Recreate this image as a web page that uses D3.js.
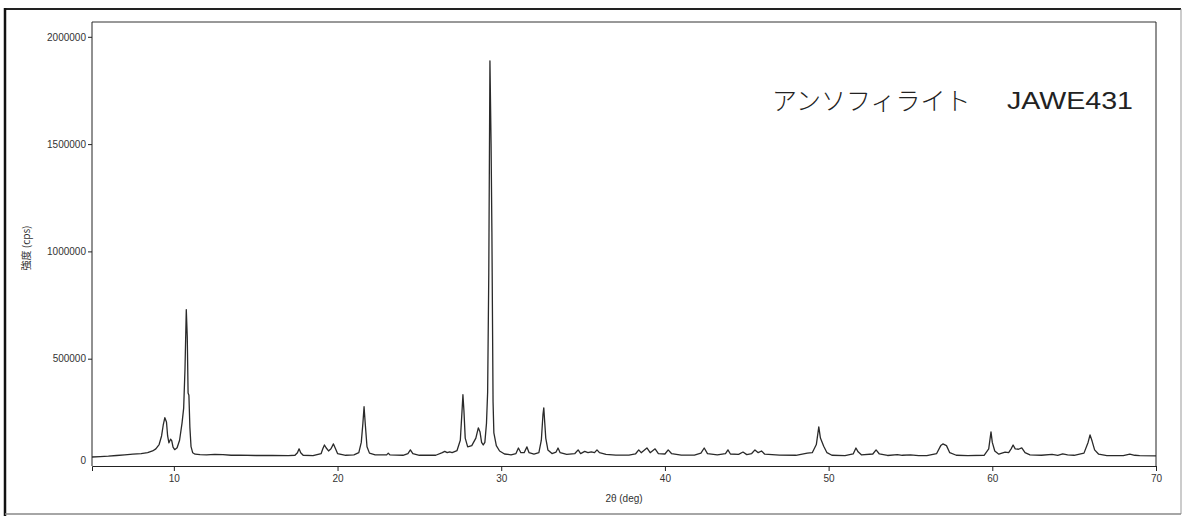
<!DOCTYPE html>
<html>
<head>
<meta charset="utf-8">
<script src="https://cdn.jsdelivr.net/npm/d3@7"></script>
<style>
  body { margin: 0; background: #fff; }
  svg { display: block; }
</style>
</head>
<body>
<script>
// XRD pattern
var twoTheta = [5.0, 5.5, 6.0, 6.5, 7.0, 7.5, 8.0, 8.4, 8.7, 8.9, 9.1, 9.25, 9.35, 9.45, 9.55, 9.62, 9.7, 9.8, 9.87, 9.95,
  10.05, 10.2, 10.35, 10.5, 10.6, 10.68, 10.76, 10.82, 10.87, 10.92, 10.98, 11.05, 11.15, 11.3, 11.6, 12.0, 12.5, 13.0, 13.5, 14.0,
  15.0, 16.0, 17.0, 17.4, 17.55, 17.65, 17.75, 17.9, 18.5, 19.0, 19.1, 19.2, 19.3, 19.45, 19.6, 19.75, 19.85, 20.0, 20.5, 21.0,
  21.3, 21.45, 21.55, 21.62, 21.7, 21.8, 21.95, 22.3, 23.0, 23.1, 23.2, 24.0, 24.3, 24.45, 24.6, 25.0, 26.0, 26.4, 26.55, 26.7,
  26.85, 27.0, 27.3, 27.5, 27.6, 27.66, 27.72, 27.8, 27.95, 28.2, 28.45, 28.6, 28.7, 28.8, 28.9, 29.0, 29.1, 29.17, 29.24, 29.31,
  29.38, 29.43, 29.5, 29.55, 29.7, 29.9, 30.2, 30.6, 30.9, 31.05, 31.2, 31.4, 31.57, 31.7, 32.0, 32.3, 32.45, 32.55, 32.6, 32.66,
  32.72, 32.85, 33.1, 33.35, 33.47, 33.6, 34.0, 34.5, 34.7, 34.85, 35.1, 35.3, 35.5, 35.7, 35.85, 36.0, 36.4, 37.0, 37.8, 38.2,
  38.4, 38.55, 38.9, 39.1, 39.4, 39.6, 40.0, 40.2, 40.4, 41.0, 41.8, 42.2, 42.4, 42.6, 43.2, 43.7, 43.85, 44.0, 44.5, 44.77,
  45.0, 45.3, 45.5, 45.7, 45.9, 46.1, 47.0, 48.0, 48.7, 49.0, 49.25, 49.4, 49.5, 49.7, 49.9, 50.2, 51.0, 51.5, 51.67, 51.8,
  52.0, 52.7, 52.9, 53.1, 53.6, 54.2, 54.5, 55.0, 55.5, 56.0, 56.6, 56.85, 56.98, 57.2, 57.4, 57.8, 58.5, 59.5, 59.78, 59.92,
  60.0, 60.15, 60.4, 60.78, 61.0, 61.15, 61.27, 61.4, 61.6, 61.8, 62.0, 62.3, 63.0, 63.65, 64.0, 64.3, 64.6, 65.0, 65.6, 65.85,
  65.97, 66.1, 66.25, 66.5, 67.0, 68.0, 68.4, 68.7, 69.0, 70.0];

var intensity = [42000, 44000, 46000, 49000, 52000, 55000, 58000, 62000, 70000, 80000, 100000, 140000, 190000, 225000, 205000, 140000, 108000, 125000, 118000, 88000,
  76000, 85000, 120000, 200000, 270000, 450000, 729000, 600000, 340000, 330000, 180000, 90000, 62000, 55000, 53000, 52000, 54000, 53000, 50000, 51000,
  49000, 49000, 48000, 50000, 62000, 80000, 62000, 50000, 48000, 58000, 80000, 98000, 85000, 70000, 80000, 103000, 85000, 58000, 50000, 52000,
  62000, 110000, 200000, 276000, 190000, 90000, 60000, 52000, 52000, 60000, 52000, 50000, 58000, 75000, 58000, 50000, 50000, 62000, 68000, 62000,
  66000, 62000, 72000, 120000, 250000, 332000, 260000, 130000, 89000, 95000, 130000, 178000, 160000, 110000, 98000, 110000, 200000, 345000, 900000, 1888000,
  1500000, 1089000, 300000, 154000, 95000, 70000, 56000, 52000, 58000, 84000, 62000, 62000, 89000, 62000, 55000, 62000, 120000, 240000, 271000, 200000,
  130000, 75000, 58000, 65000, 84000, 62000, 54000, 58000, 75000, 58000, 68000, 62000, 66000, 62000, 75000, 62000, 54000, 51000, 51000, 56000,
  75000, 62000, 84000, 62000, 80000, 58000, 56000, 75000, 58000, 51000, 51000, 60000, 84000, 58000, 52000, 58000, 75000, 56000, 54000, 65000,
  53000, 58000, 75000, 62000, 70000, 55000, 51000, 50000, 60000, 62000, 100000, 182000, 130000, 92000, 62000, 50000, 48000, 56000, 84000, 66000,
  52000, 56000, 75000, 56000, 49000, 53000, 50000, 52000, 48000, 48000, 58000, 95000, 103000, 95000, 62000, 50000, 48000, 50000, 80000, 159000,
  110000, 70000, 55000, 65000, 62000, 80000, 98000, 80000, 78000, 84000, 62000, 52000, 50000, 54000, 50000, 56000, 52000, 50000, 60000, 110000,
  145000, 115000, 75000, 55000, 48000, 48000, 55000, 50000, 48000, 47000];

var xTicks = [10, 20, 30, 40, 50, 60, 70];
var yTicks = [0, 500000, 1000000, 1500000, 2000000];
var titleName = "アンソフィライト";
var titleCode = "JAWE431";
var xTitle = "2θ (deg)";
var yTitle = "強度 (cps)";

var W = 1186, H = 516;
var plotL = 92, plotR = 1156, plotT = 22, plotB = 466;

var svg = d3.select("body").append("svg")
    .attr("width", W)
    .attr("height", H);

// outer frame of the scanned page
svg.append("line").attr("x1", 5).attr("x2", 1181).attr("y1", 9).attr("y2", 9)
    .attr("stroke", "#222").attr("stroke-width", 2);
svg.append("line").attr("x1", 5).attr("x2", 5).attr("y1", 8).attr("y2", H)
    .attr("stroke", "#111").attr("stroke-width", 2.5);
svg.append("line").attr("x1", 1181).attr("x2", 1181).attr("y1", 9).attr("y2", 514)
    .attr("stroke", "#999").attr("stroke-width", 1);
svg.append("line").attr("x1", 5).attr("x2", 1181).attr("y1", 514).attr("y2", 514)
    .attr("stroke", "#888").attr("stroke-width", 1.5);

var x = d3.scaleLinear().domain([5, 70]).range([plotL, plotR]);
var y = d3.scaleLinear().domain([0, 2000000]).range([plotB, plotB - 4 * 107.3]);

// plot box
svg.append("line").attr("x1", plotL).attr("x2", plotR).attr("y1", plotT).attr("y2", plotT)
    .attr("stroke", "#333").attr("stroke-width", 1);
svg.append("line").attr("x1", plotR).attr("x2", plotR).attr("y1", plotT).attr("y2", plotB)
    .attr("stroke", "#222").attr("stroke-width", 1);
svg.append("line").attr("x1", plotL).attr("x2", plotL).attr("y1", plotT).attr("y2", plotB)
    .attr("stroke", "#222").attr("stroke-width", 1);

var xAxis = svg.append("g")
    .attr("transform", "translate(0," + plotB + ")")
    .call(d3.axisBottom(x).tickValues(xTicks).tickSize(5).tickPadding(4).tickFormat(d3.format("d")));
xAxis.select(".domain").attr("stroke", "#222");
xAxis.selectAll("line").attr("stroke", "#222");
xAxis.selectAll("text").attr("font-family", "Liberation Sans, Arial, sans-serif")
    .attr("font-size", 10).attr("fill", "#333");

var yAxis = svg.append("g")
    .attr("transform", "translate(" + plotL + ",0)")
    .call(d3.axisLeft(y).tickValues(yTicks).tickSize(4).tickPadding(2).tickFormat(d3.format("d")));
yAxis.select(".domain").remove();
yAxis.selectAll("line").attr("stroke", "#222");
yAxis.selectAll("text").attr("font-family", "Liberation Sans, Arial, sans-serif")
    .attr("font-size", 10).attr("fill", "#333");
yAxis.selectAll(".tick").filter(function(d) { return d === 0; })
    .select("text").attr("y", -6);
yAxis.selectAll(".tick").filter(function(d) { return d === 0; })
    .select("line").remove();

// axis titles
svg.append("text")
    .attr("x", (plotL + plotR) / 2).attr("y", 502)
    .attr("text-anchor", "middle")
    .attr("font-family", "Liberation Sans, Noto Sans CJK JP, sans-serif")
    .attr("font-size", 10).attr("fill", "#333")
    .text(xTitle);

svg.append("text")
    .attr("transform", "translate(30,248) rotate(-90)")
    .attr("text-anchor", "middle")
    .attr("font-family", "Noto Sans CJK JP, sans-serif")
    .attr("font-size", 10).attr("fill", "#333")
    .text(yTitle);

// the pattern
var line = d3.line()
    .x(function(d, i) { return x(twoTheta[i]); })
    .y(function(d) { return y(d); });

svg.append("path")
    .datum(intensity)
    .attr("d", line)
    .attr("fill", "none")
    .attr("stroke", "#2a2a2a")
    .attr("stroke-width", 1.3)
    .attr("stroke-linejoin", "round");

// sample name
svg.append("text")
    .attr("x", 772).attr("y", 110)
    .attr("font-family", "Noto Sans CJK JP, sans-serif")
    .attr("font-size", 25).attr("font-weight", 300).attr("fill", "#222")
    .text(titleName);
svg.append("text")
    .attr("x", 1007).attr("y", 109)
    .attr("font-family", "Liberation Sans, Arial, sans-serif")
    .attr("font-size", 24).attr("fill", "#222")
    .attr("textLength", 126).attr("lengthAdjust", "spacingAndGlyphs")
    .text(titleCode);
</script>
</body>
</html>
